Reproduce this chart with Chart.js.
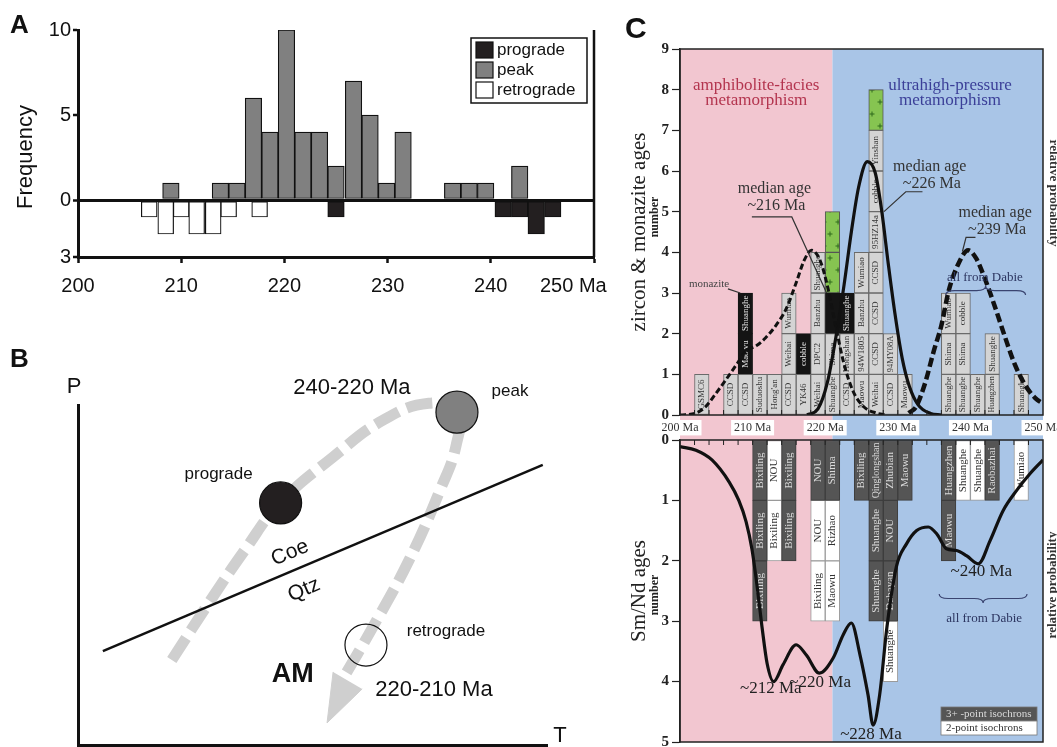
<!DOCTYPE html>
<html>
<head>
<meta charset="utf-8">
<title>Metamorphic ages</title>
<script src="https://cdn.jsdelivr.net/npm/chart.js@4.4.1/dist/chart.umd.min.js"></script>
<style>
  html, body { margin: 0; padding: 0; background: #fff; }
  body { width: 1057px; height: 747px; position: relative; overflow: hidden; }
  canvas { position: absolute; }
  #histA { left: 0; top: 0; }
  #ptB { left: 0; top: 330px; }
  #zirconC { left: 610px; top: 0; }
  #smndC { left: 610px; top: 420px; }
</style>
</head>
<body>
<canvas id="histA" width="620" height="330"></canvas>
<canvas id="ptB" width="620" height="417"></canvas>
<canvas id="zirconC" width="467" height="440"></canvas>
<canvas id="smndC" width="467" height="347"></canvas>
<script>
// ---------- A: histogram of ages (bin centre, Ma) ----------
const peakAge   = [209.0, 213.8, 215.4, 217.0, 218.6, 220.2, 221.8, 223.4, 225.0, 226.7, 228.3, 229.9, 231.5, 236.3, 237.9, 239.5, 242.8];
const peakCount = [1, 1, 1, 6, 4, 10, 4, 4, 2, 7, 5, 1, 4, 1, 1, 1, 2];
const progradeAge   = [225.0, 241.2, 242.8, 244.4, 246.0];
const progradeCount = [1, 1, 1, 2, 1];
const retroAge   = [206.9, 208.5, 210.0, 211.5, 213.1, 214.6, 217.6];
const retroCount = [1, 2, 1, 2, 2, 1, 1];
const ageTicks  = [200, 210, 220, 230, 240, 250];
const freqTicks = [-3.35, 0, 5, 10];

// ---------- B: schematic P-T path (arbitrary T, P units) ----------
const coeQtzT = [5.3, 99.1];
const coeQtzP = [27.6, 82.4];
const pathT = [20.0, 27.9, 35.6, 43.1, 54.4, 65.0, 74.8, 80.8, 80.6, 77.2, 70.6, 62.5, 56.7];
const pathP = [25.0, 41.8, 57.4, 71.2, 84.7, 95.5, 100.5, 97.9, 88.0, 75.0, 54.4, 33.8, 20.0];
const arrowT = [54.4, 53.1, 60.6];
const arrowP = [21.5, 6.5, 16.5];
const stageName = ['prograde', 'peak', 'retrograde'];
const stageT = [43.2, 80.8, 61.4];
const stageP = [71.2, 97.9, 29.4];

// ---------- C top: zircon & monazite ages, 2 Ma bins (centre, stack level, sample) ----------
const zirconAge   = [203, 207, 209, 211, 213, 215, 215, 215, 217, 219, 219, 219, 219, 221, 221, 223, 223,
                     225, 225, 225, 225, 227, 227, 227, 227, 227, 227, 227, 229, 229, 231,
                     237, 237, 237, 239, 239, 239, 241, 243, 243, 247];
const zirconLevel = [0, 0, 0, 0, 0, 0, 1, 2, 0, 0, 1, 2, 3, 0, 1, 0, 1,
                     0, 1, 2, 3, 0, 1, 2, 3, 4, 5, 6, 0, 1, 0,
                     0, 1, 2, 0, 1, 2, 0, 0, 1, 0];
const zirconSite  = ['GSMC6', 'CCSD', 'CCSD', 'Suduoshu', "Hong'an", 'CCSD', 'Weihai', 'Wumiao', 'YK46',
                     'Weihai', 'DPC2', 'Banzhu', 'Shuanghe', 'Shuanghe', 'Shima', 'CCSD', 'Hongshan',
                     'Maowu', '94W1805', 'Banzhu', 'Wumiao', 'Weihai', 'CCSD', 'CCSD', 'CCSD', '95HZ14a', 'cobble', 'Yinshan',
                     'CCSD', '94MY08A', 'Maowu', 'Shuanghe', 'Shima', 'Wumiao', 'Shuanghe', 'Shima', 'cobble',
                     'Shuanghe', 'Huangzhen', 'Shuanghe', 'Shuanghe'];
const monaziteAge   = [209, 209, 217, 221, 223];
const monaziteLevel = [1, 2, 1, 2, 2];
const monaziteSite  = ['Mao vu', 'Shuanghe', 'cobble', '', 'Shuanghe'];
const greenAge   = [221, 221, 227];
const greenLevel = [3, 4, 7];

// relative probability curves (Ma, value on the number axis)
const curve216Age = [200, 202.2, 203.5, 204.9, 206.3, 207.9, 209.1, 210.5, 211.8, 213.2, 214.6, 216.0, 217.1, 218.1, 219.3, 220.4, 221.6, 222.6, 223.8, 225.2, 227.0, 228.5];
const curve216    = [0, 0.05, 0.2, 0.52, 0.86, 1.27, 1.58, 1.7, 1.9, 2.2, 2.6, 3.25, 3.8, 4.05, 3.8, 3.1, 2.05, 1.25, 0.6, 0.22, 0.05, 0];
const curve226Age = [217.5, 219.0, 220.3, 221.6, 222.6, 223.6, 224.6, 225.8, 226.9, 227.8, 228.7, 229.6, 230.6, 231.6, 232.8, 234.5, 236.0];
const curve226    = [0, 0.15, 0.8, 2.05, 3.2, 4.5, 5.6, 6.23, 5.95, 5.0, 3.7, 2.5, 1.4, 0.7, 0.25, 0.04, 0];
const curve239Age = [231.5, 232.5, 233.7, 235.0, 236.0, 237.0, 238.3, 239.7, 240.8, 242.0, 243.4, 244.8, 246.1, 247.5, 248.9, 250.0];
const curve239    = [0.05, 0.2, 0.75, 1.6, 2.2, 3.05, 3.7, 4.05, 3.85, 3.35, 2.65, 1.9, 1.25, 0.75, 0.42, 0.28];

// ---------- C bottom: Sm/Nd isochron ages ----------
const iso3Age   = [211, 211, 211, 215, 215, 219, 221, 225, 227, 227, 227, 229, 229, 229, 231, 237, 237, 243];
const iso3Level = [0, 1, 2, 0, 1, 0, 0, 0, 0, 1, 2, 0, 1, 2, 0, 0, 1, 0];
const iso3Site  = ['Bixiling', 'Bixiling', 'Bixiling', 'Bixiling', 'Bixiling', 'NOU', 'Shima', 'Bixiling',
                   'Qinglongshan', 'Shuanghe', 'Shuanghe', 'Zhubian', 'NOU', 'Dabayan', 'Maowu', 'Huangzhen', 'Maowu', 'Raobazhai'];
const iso2Age   = [213, 213, 219, 219, 221, 221, 229, 239, 241, 247];
const iso2Level = [0, 1, 1, 2, 1, 2, 3, 0, 0, 0];
const iso2Site  = ['NOU', 'Bixiling', 'NOU', 'Bixiling', 'Rizhao', 'Maowu', 'Shuanghe', 'Shuanghe', 'Shuanghe', 'Wumiao'];
const smndAge   = [200, 202.2, 204.4, 206.8, 208.1, 209.1, 209.9, 210.6, 211.3, 212.0, 212.9, 214.2, 216.0, 217.4, 219.2,
                   221.1, 222.5, 223.6, 224.8, 225.9, 226.6, 227.5, 228.5, 229.8, 231.2, 232.6, 234.2, 235.4, 236.7,
                   238.1, 239.5, 241.1, 242.7, 244.5, 246.4, 248.2, 250];
const smndProb  = [0.11, 0.17, 0.33, 0.7, 1.0, 1.35, 1.8, 2.4, 3.1, 3.7, 4.0, 3.72, 3.39, 3.56, 3.86,
                   3.61, 3.22, 3.03, 3.56, 4.22, 4.72, 4.22, 3.1, 2.1, 1.72, 1.5, 1.44, 1.56, 1.8,
                   1.83, 1.92, 2.05, 1.67, 1.17, 0.83, 0.56, 0.33];

const faciesName = [['amphibolite-facies', 'metamorphism'], ['ultrahigh-pressure', 'metamorphism']];
const faciesFrom = [200, 221];
const faciesTo   = [221, 250];

// ---------- styles ----------
const SANS = '"Liberation Sans", Arial, sans-serif';
const SERIF = '"Liberation Serif", "Times New Roman", serif';
const INK = '#111';
const faciesFill = ['#f2c6d0', '#a9c5e7'];
const faciesInk = ['#b3344e', '#3b3f98'];
const faciesTitleAt = [210.5, 237.2];
const stageFill = ['#231f20', '#808080', 'rgba(255,255,255,0)'];
const stageLabelOffset = [[-62, -29], [53, -21], [80, -14]];
const notesB = [
  { text: '240-220 Ma', t: 58.4, p: 105, font: `22px ${SANS}` },
  { text: '220-210 Ma', t: 75.9, p: 16.2, font: `22px ${SANS}` },
  { text: 'AM', t: 45.8, p: 20.6, font: `bold 27px ${SANS}` },
  { text: 'Coe', t: 45.2, p: 56.5, font: `21px ${SANS}`, angle: -23 },
  { text: 'Qtz', t: 48.2, p: 45.6, font: `21px ${SANS}`, angle: -23 }
];
const medianNotes = [
  { lines: ['median age', '~216 Ma'], at: [213.0, 5.56], leader: [[209.9, 4.87], [215.4, 4.87], [220.2, 3.0]] },
  { lines: ['median age', '~226 Ma'], at: [234.4, 6.10], leader: [[233.4, 5.49], [231.1, 5.49], [228.1, 5.0]] },
  { lines: ['median age', '~239 Ma'], at: [243.4, 4.97], leader: [[240.7, 4.37], [239.4, 4.37], [238.9, 4.02]] }
];
const smndNotes = [
  { text: '~212 Ma', at: [212.5, 4.12] },
  { text: '~220 Ma', at: [219.3, 4.02] },
  { text: '~228 Ma', at: [226.3, 4.88] },
  { text: '~240 Ma', at: [241.5, 2.17] }
];

Chart.defaults.font.family = SANS;
Chart.defaults.animation = false;
Chart.defaults.layout.autoPadding = false;

const pts = (xs, ys) => xs.map((v, i) => ({ x: v, y: ys[i] }));
const boxes = (age, level) => age.map((a, i) => ({ x: a, y: [level[i], level[i] + 1] }));

function plusPattern() {
  const c = document.createElement('canvas');
  c.width = 14; c.height = 24;
  const g = c.getContext('2d');
  g.fillStyle = '#86c451';
  g.fillRect(0, 0, 14, 24);
  g.strokeStyle = '#2f6a1c';
  g.lineWidth = 1;
  [[4, 6], [10, 18]].forEach(([x, y]) => {
    g.beginPath();
    g.moveTo(x - 2.5, y); g.lineTo(x + 2.5, y);
    g.moveTo(x, y - 2.5); g.lineTo(x, y + 2.5);
    g.stroke();
  });
  return g.createPattern(c, 'repeat');
}

function brace(ctx, x1, x2, y, d) {
  // horizontal curly brace, tip at y + d
  const xm = (x1 + x2) / 2, h = d / 2, r = Math.abs(h) * 2;
  ctx.beginPath();
  ctx.moveTo(x1, y);
  ctx.quadraticCurveTo(x1, y + h, x1 + r, y + h);
  ctx.lineTo(xm - r, y + h);
  ctx.quadraticCurveTo(xm, y + h, xm, y + d);
  ctx.quadraticCurveTo(xm, y + h, xm + r, y + h);
  ctx.lineTo(x2 - r, y + h);
  ctx.quadraticCurveTo(x2, y + h, x2, y);
  ctx.stroke();
}

function vText(ctx, text, x, y, font, color, rot) {
  ctx.save();
  ctx.translate(x, y);
  ctx.rotate(rot);
  ctx.font = font;
  ctx.fillStyle = color;
  ctx.textAlign = 'center';
  ctx.textBaseline = 'middle';
  ctx.fillText(text, 0, 0);
  ctx.restore();
}

// ---------- A ----------
const histExtras = {
  id: 'histExtras',
  afterDraw(chart) {
    const { ctx, chartArea: a, scales: { x } } = chart;
    ctx.save();
    ctx.strokeStyle = INK;
    ctx.lineWidth = 2.5;
    ctx.beginPath(); ctx.moveTo(a.right, a.top); ctx.lineTo(a.right, a.bottom); ctx.stroke();

    ctx.fillStyle = INK;
    ctx.font = `20px ${SANS}`;
    ctx.textBaseline = 'middle';
    ctx.fillText('250 Ma', x.getPixelForValue(250) - 54, a.bottom + 29);

    ctx.font = `bold 26px ${SANS}`;
    ctx.textBaseline = 'alphabetic';
    ctx.fillText('A', 10, 33);
    vText(ctx, 'Frequency', 26, 157, `22px ${SANS}`, INK, -Math.PI / 2);

    // legend box
    const lx = a.right - 123, ly = a.top + 8;
    ctx.lineWidth = 1.5;
    ctx.strokeRect(lx, ly, 116, 65);
    chart.data.datasets.forEach((ds, i) => {
      const y = ly + 4 + i * 20;
      ctx.fillStyle = ds.backgroundColor;
      ctx.fillRect(lx + 5, y, 17, 16);
      ctx.lineWidth = 1.2;
      ctx.strokeRect(lx + 5, y, 17, 16);
      ctx.fillStyle = INK;
      ctx.font = `17px ${SANS}`;
      ctx.textBaseline = 'middle';
      ctx.fillText(ds.label, lx + 26, y + 8);
    });
    ctx.restore();
  }
};

new Chart(document.getElementById('histA'), {
  type: 'bar',
  data: {
    datasets: [
      { label: 'prograde', data: pts(progradeAge, progradeCount.map(v => -v)), backgroundColor: '#231f20', barThickness: 16.5 },
      { label: 'peak', data: pts(peakAge, peakCount), backgroundColor: '#808080', barThickness: 16.5 },
      { label: 'retrograde', data: pts(retroAge, retroCount.map(v => -v)), backgroundColor: '#ffffff', barThickness: 15.8 }
    ]
  },
  options: {
    responsive: false,
    events: [],
    layout: { padding: { left: 0, top: 30, right: 26, bottom: 0 } },
    datasets: { bar: { grouped: false, borderColor: INK, borderWidth: 1.2, borderSkipped: false } },
    plugins: { legend: { display: false }, tooltip: { enabled: false } },
    scales: {
      x: {
        type: 'linear', min: 200, max: 250, offset: false,
        afterFit: s => { s.height = 73; },
        afterBuildTicks: s => { s.ticks = ageTicks.map(v => ({ value: v })); },
        ticks: { autoSkip: false, maxRotation: 0, padding: 11, color: INK, font: { size: 20 }, callback: v => (v === 250 ? '' : v) },
        grid: { drawOnChartArea: false, offset: false, tickLength: 6, tickColor: INK, tickWidth: 2.5 },
        border: { color: INK, width: 3 }
      },
      y: {
        min: -3.35, max: 10,
        afterFit: s => { s.width = 78; },
        afterBuildTicks: s => { s.ticks = freqTicks.map(v => ({ value: v })); },
        ticks: { padding: 2, color: INK, font: { size: 20 }, callback: v => Math.round(Math.abs(v)) },
        grid: {
          color: c => (c.tick && c.tick.value === 0 ? INK : 'rgba(0,0,0,0)'),
          lineWidth: c => (c.tick && c.tick.value === 0 ? 3 : 0),
          tickLength: 5, tickColor: INK, tickWidth: 2.5
        },
        border: { color: INK, width: 3 }
      }
    }
  },
  plugins: [histExtras]
});

// ---------- B ----------
const ptExtras = {
  id: 'ptExtras',
  afterDraw(chart) {
    const { ctx, chartArea: a, scales: { x, y } } = chart;
    ctx.save();
    ctx.fillStyle = INK;
    ctx.font = `bold 26px ${SANS}`;
    ctx.fillText('B', 10, 37);
    ctx.textAlign = 'center';
    ctx.textBaseline = 'middle';
    ctx.font = `22px ${SANS}`;
    ctx.fillText('P', a.left - 4, a.top - 18);
    ctx.fillText('T', a.right + 13, a.bottom - 9);
    ctx.font = `17px ${SANS}`;
    stageName.forEach((n, i) => {
      const [dx, dy] = stageLabelOffset[i];
      ctx.fillText(n, x.getPixelForValue(stageT[i]) + dx, y.getPixelForValue(stageP[i]) + dy);
    });
    notesB.forEach(n => vText(ctx, n.text, x.getPixelForValue(n.t), y.getPixelForValue(n.p), n.font, INK, (n.angle || 0) * Math.PI / 180));
    ctx.restore();
  }
};

new Chart(document.getElementById('ptB'), {
  type: 'line',
  data: {
    datasets: [
      { label: 'stages', data: pts(stageT, stageP), showLine: false, pointRadius: 21, pointBackgroundColor: stageFill,
        pointBorderColor: INK, pointBorderWidth: 1.2, order: 0 },
      { label: 'arrow', data: pts(arrowT, arrowP), fill: 'shape', backgroundColor: '#cfcfcf', borderColor: '#cfcfcf',
        borderWidth: 1, pointRadius: 0, tension: 0, order: 1 },
      { label: 'Coe / Qtz', data: pts(coeQtzT, coeQtzP), borderColor: INK, borderWidth: 2.5, pointRadius: 0, order: 2 },
      { label: 'P-T path', data: pts(pathT, pathP), borderColor: '#cfcfcf', borderWidth: 11, borderDash: [26, 9],
        borderCapStyle: 'butt', pointRadius: 0, tension: 0.45, order: 3 }
    ]
  },
  options: {
    responsive: false,
    events: [],
    clip: false,
    layout: { autoPadding: false, padding: { left: 0, top: 75, right: 73, bottom: 0 } },
    plugins: { legend: { display: false }, tooltip: { enabled: false } },
    scales: {
      x: { type: 'linear', min: 0, max: 100, afterFit: s => { s.height = 2; },
           ticks: { display: false }, grid: { drawOnChartArea: false, drawTicks: false }, border: { color: INK, width: 3 } },
      y: { type: 'linear', min: 0, max: 100, afterFit: s => { s.width = 78; },
           ticks: { display: false }, grid: { drawOnChartArea: false, drawTicks: false }, border: { color: INK, width: 3 } }
    }
  },
  plugins: [ptExtras]
});

// ---------- C shared plugins ----------
const faciesBands = {
  id: 'faciesBands',
  beforeDraw(chart, args, opts) {
    const { ctx, chartArea: a, scales: { x } } = chart;
    ctx.save();
    faciesFrom.forEach((from, i) => {
      const l = x.getPixelForValue(from), r = x.getPixelForValue(faciesTo[i]);
      ctx.fillStyle = faciesFill[i];
      ctx.fillRect(l, a.top, r - l, a.bottom - a.top + (opts.extra || 0));
    });
    ctx.restore();
  }
};

const siteLabels = {
  id: 'siteLabels',
  afterDatasetDraw(chart, args, opts) {
    const ds = chart.data.datasets[args.index];
    if (!ds.sites) return;
    const ctx = chart.ctx;
    args.meta.data.forEach((bar, j) => {
      const txt = ds.sites[j];
      if (!txt) return;
      const room = Math.abs(bar.base - bar.y) - 4;
      let size = opts.size;
      ctx.save();
      ctx.font = `${size}px ${SERIF}`;
      const w = ctx.measureText(txt).width;
      if (w > room) { size *= room / w; ctx.font = `${size}px ${SERIF}`; }
      ctx.translate(bar.x, (bar.y + bar.base) / 2);
      ctx.rotate(-Math.PI / 2);
      ctx.fillStyle = ds.ink;
      ctx.textAlign = 'center';
      ctx.textBaseline = 'middle';
      ctx.fillText(txt, 0, 0);
      ctx.restore();
    });
  }
};

const frameTicks = {
  id: 'frameTicks',
  afterDatasetsDraw(chart, args, opts) {
    const { ctx, chartArea: a, scales: { x } } = chart;
    ctx.save();
    ctx.strokeStyle = '#222';
    ctx.lineWidth = 1.5;
    ctx.strokeRect(a.left, a.top, a.right - a.left, a.bottom - a.top);
    ctx.lineWidth = 1;
    const edge = opts.side === 'top' ? a.top : a.bottom;
    const dir = opts.side === 'top' ? 1 : -1;
    for (let v = x.min + 2; v < x.max; v += 2) {
      const p = x.getPixelForValue(v);
      ctx.beginPath(); ctx.moveTo(p, edge); ctx.lineTo(p, edge + dir * 5); ctx.stroke();
    }
    // secondary axis caption (cut by the page edge, as in the source)
    vText(ctx, 'relative probability', a.right + 10, opts.probY, `bold 13px ${SERIF}`, '#333',
          opts.side === 'top' ? -Math.PI / 2 : Math.PI / 2);
    vText(ctx, 'number', 45, opts.numberY, `bold 12px ${SERIF}`, '#222', -Math.PI / 2);
    ctx.restore();
  }
};

const zirconNotes = {
  id: 'zirconNotes',
  afterDatasetsDraw(chart) {
    const { ctx, chartArea: a, scales: { x, y } } = chart;
    ctx.save();
    ctx.fillStyle = INK;
    ctx.font = `bold 30px ${SANS}`;
    ctx.fillText('C', 15, 38);
    ctx.textAlign = 'center';
    ctx.textBaseline = 'middle';
    faciesName.forEach((lines, i) => {
      ctx.fillStyle = faciesInk[i];
      ctx.font = `17px ${SERIF}`;
      lines.forEach((t, k) => ctx.fillText(t, x.getPixelForValue(faciesTitleAt[i]), a.top + 37 + k * 15));
    });
    ctx.strokeStyle = '#333';
    ctx.lineWidth = 1.2;
    medianNotes.forEach(m => {
      ctx.beginPath();
      m.leader.forEach(([ma, v], k) => {
        const px = x.getPixelForValue(ma), py = y.getPixelForValue(v);
        if (k === 0) ctx.moveTo(px, py); else ctx.lineTo(px, py);
      });
      ctx.stroke();
      ctx.fillStyle = '#333';
      ctx.font = `16px ${SERIF}`;
      m.lines.forEach((t, k) => ctx.fillText(t, x.getPixelForValue(m.at[0]) + k * 2, y.getPixelForValue(m.at[1]) + k * 17));
    });
    // monazite pointer
    ctx.font = `11px ${SERIF}`;
    ctx.fillStyle = '#444';
    ctx.fillText('monazite', x.getPixelForValue(204.0), y.getPixelForValue(3.22));
    ctx.beginPath();
    ctx.moveTo(x.getPixelForValue(206.6), y.getPixelForValue(3.1));
    ctx.lineTo(x.getPixelForValue(208.3), y.getPixelForValue(3.0));
    ctx.stroke();
    // all from Dabie
    ctx.font = `13px ${SERIF}`;
    ctx.fillStyle = '#2c3560';
    ctx.fillText('all from Dabie', x.getPixelForValue(242.0), y.getPixelForValue(3.37));
    ctx.strokeStyle = '#3a4470';
    brace(ctx, x.getPixelForValue(236.6), x.getPixelForValue(247.6), y.getPixelForValue(2.95), -9);
    ctx.restore();
  }
};

const smndNotesPlugin = {
  id: 'smndNotes',
  afterDatasetsDraw(chart) {
    const { ctx, chartArea: a, scales: { x, y } } = chart;
    ctx.save();
    ctx.textAlign = 'center';
    ctx.textBaseline = 'middle';
    ctx.fillStyle = '#222';
    ctx.font = `17px ${SERIF}`;
    smndNotes.forEach(n => ctx.fillText(n.text, x.getPixelForValue(n.at[0]), y.getPixelForValue(n.at[1])));
    ctx.font = `13px ${SERIF}`;
    ctx.fillStyle = '#2c3560';
    ctx.fillText('all from Dabie', x.getPixelForValue(241.9), y.getPixelForValue(2.95));
    ctx.strokeStyle = '#3a4470';
    ctx.lineWidth = 1.2;
    brace(ctx, x.getPixelForValue(235.7), x.getPixelForValue(247.8), y.getPixelForValue(2.55), 9);
    // legend
    const w = 96, lx = a.right - 6 - w, ly = a.bottom - 7 - 28;
    const bars = chart.data.datasets.filter(d => d.sites);
    bars.forEach((ds, i) => {
      const top = ly + i * 14;
      ctx.fillStyle = ds.backgroundColor;
      ctx.fillRect(lx, top, w, 14);
      ctx.strokeStyle = '#777';
      ctx.lineWidth = 0.8;
      ctx.strokeRect(lx, top, w, 14);
      ctx.fillStyle = ds.ink;
      ctx.font = `11px ${SERIF}`;
      ctx.textAlign = 'left';
      ctx.fillText(ds.label, lx + 5, top + 7.5);
    });
    ctx.restore();
  }
};

const yAxisC = (max, title, reverse) => ({
  min: 0, max, reverse,
  afterFit: s => { s.width = 70; },
  ticks: { stepSize: 1, padding: 3, color: '#222', font: { family: SERIF, size: 15, weight: 'bold' } },
  grid: { drawOnChartArea: false, tickLength: 8, tickColor: '#222', tickWidth: 1.2 },
  border: { color: '#222', width: 1.5 },
  title: { display: true, text: title, color: '#222', font: { family: SERIF, size: 21 }, padding: { top: 17, bottom: 0 } }
});

// ---------- C top ----------
new Chart(document.getElementById('zirconC'), {
  type: 'bar',
  data: {
    datasets: [
      { type: 'line', label: 'median ~216 Ma', data: pts(curve216Age, curve216), borderColor: INK, borderWidth: 3,
        borderDash: [6, 3], pointRadius: 0, cubicInterpolationMode: 'monotone', order: 0 },
      { type: 'line', label: 'median ~226 Ma', data: pts(curve226Age, curve226), borderColor: INK, borderWidth: 3.2,
        pointRadius: 0, cubicInterpolationMode: 'monotone', order: 0 },
      { type: 'line', label: 'median ~239 Ma', data: pts(curve239Age, curve239), borderColor: INK, borderWidth: 4.5,
        borderDash: [9, 4], pointRadius: 0, cubicInterpolationMode: 'monotone', order: 0 },
      { label: 'zircon', data: boxes(zirconAge, zirconLevel), sites: zirconSite, ink: '#333',
        backgroundColor: '#d4d4d4', borderColor: '#6a6a6a', borderWidth: 1, order: 1 },
      { label: 'monazite', data: boxes(monaziteAge, monaziteLevel), sites: monaziteSite, ink: '#e6e6e6',
        backgroundColor: '#141414', borderColor: '#141414', borderWidth: 1, order: 1 },
      { label: 'green', data: boxes(greenAge, greenLevel), backgroundColor: plusPattern(), borderColor: '#555',
        borderWidth: 1, order: 1 }
    ]
  },
  options: {
    responsive: false,
    events: [],
    layout: { autoPadding: false, padding: { left: 0, top: 49, right: 34, bottom: 0 } },
    datasets: { bar: { grouped: false, barPercentage: 1, categoryPercentage: 1, borderSkipped: false } },
    plugins: {
      legend: { display: false }, tooltip: { enabled: false },
      faciesBands: { extra: 25 }, siteLabels: { size: 9 },
      frameTicks: { side: 'bottom', probY: 193, numberY: 217 }
    },
    scales: {
      x: {
        type: 'linear', min: 200, max: 250, offset: false,
        afterFit: s => { s.height = 25; },
        afterBuildTicks: s => { s.ticks = ageTicks.map(v => ({ value: v })); },
        ticks: { autoSkip: false, maxRotation: 0, padding: 6, color: '#333', font: { family: SERIF, size: 12 },
                 callback: v => v + ' Ma', showLabelBackdrop: true, backdropColor: '#ffffff',
                 backdropPadding: { top: 1, bottom: 0, left: 3, right: 3 } },
        grid: { display: false, offset: false, drawTicks: false },
        border: { display: false }
      },
      y: yAxisC(9, 'zircon & monazite ages', false)
    }
  },
  plugins: [faciesBands, siteLabels, frameTicks, zirconNotes]
});

// ---------- C bottom ----------
new Chart(document.getElementById('smndC'), {
  type: 'bar',
  data: {
    datasets: [
      { type: 'line', label: 'Sm/Nd probability', data: pts(smndAge, smndProb), borderColor: INK, borderWidth: 3.2,
        pointRadius: 0, cubicInterpolationMode: 'monotone', order: 0 },
      { label: '3+ -point isochrons', data: boxes(iso3Age, iso3Level), sites: iso3Site, ink: '#dadada',
        backgroundColor: '#555555', borderColor: '#3d3d3d', borderWidth: 1, order: 1 },
      { label: '2-point isochrons', data: boxes(iso2Age, iso2Level), sites: iso2Site, ink: '#333',
        backgroundColor: '#ffffff', borderColor: '#9a9a9a', borderWidth: 1, order: 1 }
    ]
  },
  options: {
    responsive: false,
    events: [],
    layout: { autoPadding: false, padding: { left: 0, top: 20, right: 34, bottom: 25 } },
    datasets: { bar: { grouped: false, barPercentage: 1, categoryPercentage: 1, borderSkipped: false } },
    plugins: {
      legend: { display: false }, tooltip: { enabled: false },
      siteLabels: { size: 11 },
      frameTicks: { side: 'top', probY: 165, numberY: 175 }
    },
    scales: {
      x: { type: 'linear', min: 200, max: 250, offset: false, display: false },
      y: yAxisC(5, 'Sm/Nd ages', true)
    }
  },
  plugins: [faciesBands, siteLabels, frameTicks, smndNotesPlugin]
});
</script>
</body>
</html>
